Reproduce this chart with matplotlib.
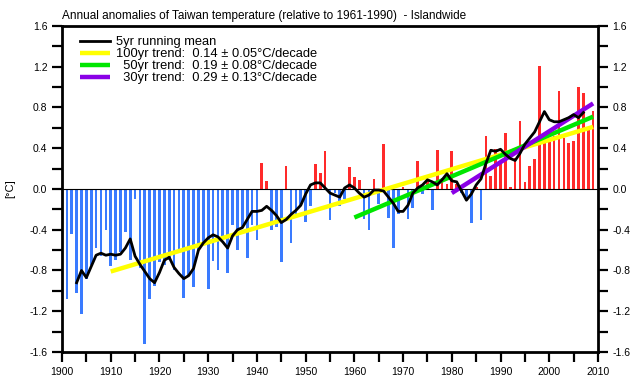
import numpy as np
import matplotlib
matplotlib.use('Agg')
import matplotlib.pyplot as plt
from matplotlib.ticker import MultipleLocator

plt.rcParams['font.family'] = ['Liberation Sans', 'DejaVu Sans']

# annual anomalies (degC), 1901-2009
years = np.arange(1901, 2010)
anomaly = [
    -1.08, -0.44, -1.02, -1.23, -0.88, -0.75, -0.58, -0.66, -0.40, -0.76,
    -0.70, -0.62, -0.42, -0.70, -0.10, -0.78, -1.52, -1.08, -0.95, -0.72,
    -0.75, -0.70, -0.80, -0.60, -1.07, -0.85, -0.96, -0.60, -0.55, -0.98,
    -0.71, -0.80, -0.49, -0.82, -0.35, -0.60, -0.38, -0.68, -0.35, -0.50,
    0.26, 0.08, -0.40, -0.37, -0.72, 0.23, -0.53, -0.27, -0.17, -0.32,
    -0.17, 0.25, 0.16, 0.37, -0.30, -0.04, -0.17, -0.10, 0.22, 0.12,
    0.09, -0.29, -0.40, 0.10, -0.15, 0.44, -0.28, -0.58, -0.25, 0.02,
    -0.29, -0.19, 0.27, -0.05, 0.09, -0.21, 0.38, 0.11, 0.05, 0.37,
    0.05, -0.04, -0.10, -0.33, 0.02, -0.30, 0.52, 0.13, 0.39, 0.25,
    0.55, 0.02, 0.30, 0.67, 0.07, 0.23, 0.29, 1.21, 0.47, 0.46,
    0.52, 0.96, 0.50, 0.45, 0.47, 1.00, 0.94, 0.60, 0.77,
]

# 5yr running mean, 1903-2007
rm_years = np.arange(1903, 2008)
running_mean = [
    -0.92, -0.80, -0.87, -0.76, -0.65, -0.63, -0.65, -0.64, -0.65, -0.64,
    -0.58, -0.49, -0.66, -0.74, -0.81, -0.88, -0.92, -0.82, -0.70, -0.67,
    -0.77, -0.83, -0.88, -0.85, -0.78, -0.60, -0.53, -0.48, -0.45, -0.47,
    -0.52, -0.58, -0.46, -0.40, -0.38, -0.30, -0.22, -0.22, -0.21, -0.17,
    -0.21, -0.26, -0.33, -0.30, -0.25, -0.21, -0.16, -0.05, 0.04, 0.06,
    0.06, 0.01, -0.04, -0.06, -0.08, 0.01, 0.04, 0.01, -0.04, -0.08,
    -0.06, -0.01, -0.01, -0.02, -0.08, -0.14, -0.22, -0.22, -0.16, -0.04,
    0.01, 0.04, 0.09, 0.07, 0.04, 0.09, 0.15, 0.08, 0.07, -0.02,
    -0.11, -0.05, 0.04, 0.10, 0.25, 0.38, 0.37, 0.39, 0.34, 0.30,
    0.28, 0.35, 0.44, 0.50, 0.56, 0.66, 0.76, 0.68, 0.66, 0.66,
    0.68, 0.70, 0.73, 0.70, 0.75,
]

# trend lines: start/end year and value
trend100_x = [1910, 2009]
trend100_y = [-0.81, 0.61]
trend50_x = [1960, 2009]
trend50_y = [-0.28, 0.71]
trend30_x = [1980, 2009]
trend30_y = [-0.04, 0.84]

anomaly = np.array(anomaly)
colors = np.where(anomaly >= 0, '#ff2a2a', '#3a7bff')

fig = plt.figure(figsize=(6.34, 3.8), dpi=100)
ax = fig.add_axes([0.0978, 0.0737, 0.8454, 0.8579])

ax.bar(years, anomaly, width=0.55, color=colors, zorder=1)
ax.axhline(0, color='black', linewidth=0.8, zorder=2)

ax.plot(trend100_x, trend100_y, color='#ffff00', linewidth=3.2, solid_capstyle='butt',
        zorder=3, label='100yr trend:  0.14 \u00b1 0.05\u00b0C/decade')
ax.plot(trend50_x, trend50_y, color='#00e600', linewidth=3.2, solid_capstyle='butt',
        zorder=4, label='  50yr trend:  0.19 \u00b1 0.08\u00b0C/decade')
ax.plot(trend30_x, trend30_y, color='#8a00e6', linewidth=3.2, solid_capstyle='butt',
        zorder=5, label='  30yr trend:  0.29 \u00b1 0.13\u00b0C/decade')
ax.plot(rm_years, running_mean, color='black', linewidth=2.0, zorder=6,
        label='5yr running mean')

handles, labels = ax.get_legend_handles_labels()
order = [3, 0, 1, 2]
leg = ax.legend([handles[i] for i in order], [labels[i] for i in order],
                loc='upper left', frameon=False, fontsize=9.3, handlelength=2.3,
                handletextpad=0.5, labelspacing=0.0, borderaxespad=0.0, borderpad=0.0,
                bbox_to_anchor=(0.0336, 0.969))

ax.set_xlim(1900, 2010)
ax.set_ylim(-1.6, 1.6)
ax.xaxis.set_major_locator(MultipleLocator(10))
ax.xaxis.set_minor_locator(MultipleLocator(5))
ax.yaxis.set_major_locator(MultipleLocator(0.4))
ax.yaxis.set_minor_locator(MultipleLocator(0.2))
ax.yaxis.set_major_formatter(plt.FuncFormatter(lambda v, p: '%.1f' % v))

ax.tick_params(axis='both', which='both', direction='out', width=1.6, labelsize=7.5,
               top=False, right=True, labelright=True)
ax.tick_params(axis='both', which='major', length=7)
ax.tick_params(axis='both', which='minor', length=7)
for s in ax.spines.values():
    s.set_linewidth(2.0)

ax.set_ylabel('[\u00b0C]', fontsize=8, labelpad=10)
ax.set_title('Annual anomalies of Taiwan temperature (relative to 1961-1990)  - Islandwide',
             loc='left', fontsize=8.5, pad=5)

plt.savefig('out.png', dpi=100)
